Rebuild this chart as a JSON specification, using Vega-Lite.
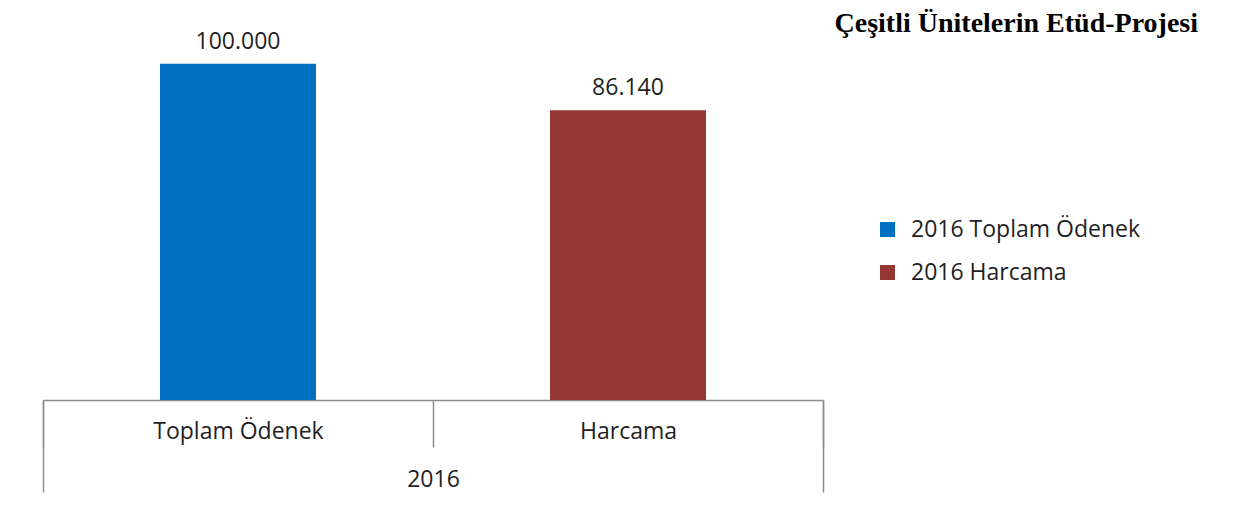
{
  "$schema": "https://vega.github.io/schema/vega-lite/v6.json",
  "autosize": "none",
  "width": 780,
  "height": 370,
  "padding": {"left": 43, "top": 30, "right": 414, "bottom": 106},
  "background": "white",
  "config": {
    "view": {"stroke": null},
    "font": "Open Sans",
    "locale": {"number": {"decimal": ",", "thousands": ".", "grouping": [3], "currency": ["", " ₺"]}}
  },
  "title": {
    "text": "Çeşitli Ünitelerin Etüd-Projesi",
    "font": "Liberation Serif",
    "fontWeight": "bold",
    "fontSize": 28,
    "color": "#000000",
    "anchor": "end",
    "frame": "group",
    "dx": 375,
    "dy": 30,
    "baseline": "alphabetic",
    "offset": 0
  },
  "data": {
    "values": [
      {"kategori": "Toplam Ödenek", "yil": "2016", "seri": "2016 Toplam Ödenek", "deger": 100000},
      {"kategori": "Harcama", "yil": "2016", "seri": "2016 Harcama", "deger": 86140}
    ]
  },
  "layer": [
    {
      "encoding": {
        "x": {
          "field": "kategori",
          "type": "nominal",
          "sort": ["Toplam Ödenek", "Harcama"],
          "scale": {"paddingInner": 0, "paddingOuter": 0},
          "axis": {
            "title": null,
            "orient": "bottom",
            "labelAngle": 0,
            "domain": true,
            "domainColor": "#8c8c8c",
            "domainWidth": 1.5,
            "ticks": true,
            "tickBand": "extent",
            "tickSize": 47,
            "tickColor": "#8c8c8c",
            "tickWidth": 1.5,
            "labelPadding": -27,
            "labelFontSize": 23,
            "labelColor": "#1f1f1f",
            "labelFont": "Open Sans",
            "labelLimit": 400,
            "grid": false
          }
        },
        "y": {
          "field": "deger",
          "type": "quantitative",
          "scale": {"domain": [0, 110000]},
          "axis": null
        }
      },
      "layer": [
        {
          "mark": {"type": "bar", "width": {"band": 0.4}},
          "encoding": {
            "color": {
              "field": "seri",
              "type": "nominal",
              "scale": {"domain": ["2016 Toplam Ödenek", "2016 Harcama"], "range": ["#0070C0", "#943634"]},
              "legend": {
                "title": null,
                "orient": "none",
                "legendX": 833,
                "legendY": 188,
                "padding": 0,
                "symbolType": "square",
                "symbolSize": 225,
                "symbolStrokeWidth": 0,
                "labelFontSize": 23,
                "labelFont": "Open Sans",
                "labelColor": "#1f1f1f",
                "labelOffset": 12,
                "labelLimit": 400,
                "rowPadding": 19
              }
            }
          }
        },
        {
          "mark": {"type": "text", "baseline": "alphabetic", "dy": -15, "fontSize": 23, "font": "Open Sans", "color": "#1f1f1f"},
          "encoding": {
            "text": {"field": "deger", "type": "quantitative", "format": ",.0f"}
          }
        }
      ]
    },
    {
      "mark": {"type": "bar", "opacity": 0},
      "encoding": {
        "x": {
          "field": "yil",
          "type": "nominal",
          "scale": {"paddingInner": 0, "paddingOuter": 0},
          "axis": {
            "title": null,
            "orient": "bottom",
            "labelAngle": 0,
            "domain": false,
            "ticks": true,
            "tickBand": "extent",
            "tickSize": 92,
            "tickColor": "#8c8c8c",
            "tickWidth": 1.5,
            "labelPadding": -24,
            "labelFontSize": 23,
            "labelColor": "#1f1f1f",
            "labelFont": "Open Sans",
            "grid": false
          }
        }
      }
    }
  ],
  "resolve": {"scale": {"x": "independent"}}
}
